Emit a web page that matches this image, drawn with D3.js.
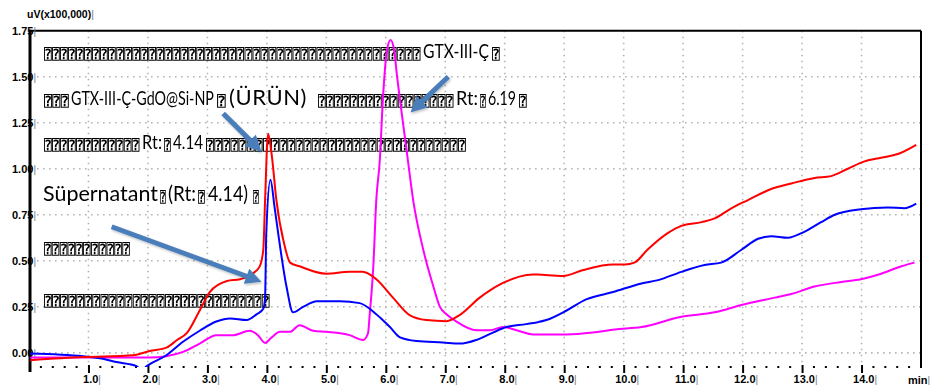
<!DOCTYPE html>
<html>
<head>
<meta charset="utf-8">
<script src="https://cdn.jsdelivr.net/npm/d3@7"></script>
<style>
  html, body { margin: 0; padding: 0; background: #fff; }
  svg { display: block; }
</style>
</head>
<body>
<svg id="chart" width="935" height="385"></svg>
<script>
// ---- Chromatogram traces (time in min, signal in uV x100,000) ----
const redTime = [0.02, 0.91, 1.75, 2.03, 2.32, 2.49, 2.66, 2.87, 3.04, 3.33, 3.55, 3.76, 3.88, 3.94, 3.97, 4.02, 4.08, 4.16, 4.30, 4.39, 4.55, 5.00, 5.39, 5.61, 5.84, 6.12, 6.40, 6.68, 7.02, 7.24, 7.58, 7.97, 8.48, 8.98, 9.32, 9.82, 10.02, 10.18, 10.40, 10.74, 10.97, 11.31, 11.53, 11.81, 12.09, 12.48, 12.82, 13.21, 13.49, 13.77, 14.05, 14.33, 14.61, 14.92];
const redValue = [-0.040, -0.023, -0.013, 0.010, 0.030, 0.070, 0.110, 0.230, 0.330, 0.390, 0.400, 0.430, 0.470, 0.560, 0.830, 1.190, 1.080, 0.830, 0.580, 0.490, 0.470, 0.430, 0.440, 0.440, 0.400, 0.300, 0.205, 0.178, 0.172, 0.205, 0.300, 0.380, 0.426, 0.417, 0.450, 0.480, 0.480, 0.490, 0.560, 0.650, 0.690, 0.710, 0.730, 0.785, 0.830, 0.890, 0.920, 0.950, 0.960, 1.000, 1.040, 1.060, 1.080, 1.130];

const blueTime = [0.02, 0.91, 1.19, 1.47, 1.81, 1.89, 1.98, 2.31, 2.59, 2.87, 3.15, 3.38, 3.66, 3.83, 3.94, 3.97, 3.99, 4.06, 4.13, 4.19, 4.33, 4.44, 4.61, 4.84, 5.23, 5.56, 5.84, 6.07, 6.24, 6.52, 6.96, 7.24, 7.52, 7.80, 8.03, 8.36, 8.70, 9.04, 9.37, 9.82, 10.30, 10.58, 10.97, 11.36, 11.64, 11.98, 12.26, 12.48, 12.76, 12.99, 13.32, 13.55, 13.99, 14.44, 14.72, 14.92];
const blueValue = [-0.003, -0.018, -0.030, -0.050, -0.072, -0.095, -0.072, -0.013, 0.060, 0.120, 0.170, 0.187, 0.178, 0.210, 0.240, 0.300, 0.650, 0.940, 0.790, 0.650, 0.360, 0.220, 0.250, 0.280, 0.280, 0.270, 0.210, 0.140, 0.084, 0.064, 0.056, 0.050, 0.070, 0.110, 0.140, 0.156, 0.178, 0.230, 0.290, 0.330, 0.377, 0.395, 0.440, 0.477, 0.490, 0.560, 0.620, 0.634, 0.625, 0.650, 0.710, 0.750, 0.780, 0.790, 0.785, 0.810];

const magentaTime = [0.02, 1.19, 2.03, 2.31, 2.59, 2.87, 3.15, 3.43, 3.71, 3.85, 3.97, 4.08, 4.22, 4.39, 4.55, 4.78, 5.00, 5.39, 5.62, 5.70, 5.73, 5.79, 5.84, 5.90, 5.95, 6.02, 6.08, 6.14, 6.19, 6.24, 6.35, 6.46, 6.63, 6.80, 6.91, 7.02, 7.19, 7.52, 7.75, 7.97, 8.20, 8.48, 9.04, 9.48, 9.85, 10.30, 10.97, 11.53, 11.98, 12.54, 12.82, 13.21, 13.66, 13.99, 14.33, 14.67, 14.89];
const magentaValue = [-0.025, -0.025, -0.025, -0.018, 0.005, 0.050, 0.096, 0.096, 0.120, 0.096, 0.054, 0.084, 0.114, 0.114, 0.150, 0.120, 0.114, 0.096, 0.070, 0.105, 0.210, 0.470, 0.830, 1.050, 1.370, 1.645, 1.700, 1.645, 1.500, 1.370, 1.100, 0.830, 0.560, 0.360, 0.250, 0.210, 0.170, 0.123, 0.123, 0.140, 0.123, 0.100, 0.100, 0.110, 0.127, 0.140, 0.196, 0.220, 0.260, 0.300, 0.320, 0.360, 0.385, 0.400, 0.430, 0.470, 0.490];

// ---- Axis ticks ----
const xTicks = [1, 2, 3, 4, 5, 6, 7, 8, 9, 10, 11, 12, 13, 14];
const xTickLabels = ["1.0", "2.0", "3.0", "4.0", "5.0", "6.0", "7.0", "8.0", "9.0", "10.0", "11.0", "12.0", "13.0", "14.0"];
const yTicks = [0, 0.25, 0.5, 0.75, 1.0, 1.25, 1.5, 1.75];
const yTickLabels = ["0.00", "0.25", "0.50", "0.75", "1.00", "1.25", "1.50", "1.75"];

const svg = d3.select("#chart");

const x = d3.scaleLinear().domain([0, 15]).range([29, 921]);
const y = d3.scaleLinear().domain([-0.077, 1.75]).range([367, 30.7]);

// ---- Grid ----
const grid = svg.append("g").attr("stroke", "#b4b4b4").attr("stroke-width", 1.6)
  .attr("stroke-dasharray", "1.6 4.4");
grid.selectAll("line.h").data(yTicks.filter(v => v < 1.75)).join("line")
  .attr("class", "h")
  .attr("x1", x(0) + 2).attr("x2", x(15))
  .attr("y1", d => y(d)).attr("y2", d => y(d));
grid.selectAll("line.v").data(xTicks).join("line")
  .attr("class", "v")
  .attr("x1", d => x(d)).attr("x2", d => x(d))
  .attr("y1", y(1.75)).attr("y2", y(-0.077) - 2);

// ---- Frame ----
const frame = svg.append("g").attr("stroke", "#000").attr("fill", "none");
frame.append("line").attr("x1", x(0)).attr("x2", x(15)).attr("y1", y(1.75)).attr("y2", y(1.75)).attr("stroke-width", 2);
frame.append("line").attr("x1", x(15)).attr("x2", x(15)).attr("y1", y(1.75)).attr("y2", y(-0.077) + 1).attr("stroke-width", 2);
frame.append("line").attr("x1", x(0) + 1).attr("x2", x(0) + 1).attr("y1", y(1.75) - 1).attr("y2", 372).attr("stroke-width", 3);

// minor tick dots along the time axis
const minor = d3.range(1, 75).map(i => i * 0.2).filter(v => Math.abs(v - Math.round(v)) > 0.01);
svg.append("g").selectAll("rect").data(minor).join("rect")
  .attr("x", d => x(d) - 1).attr("y", 366).attr("width", 2).attr("height", 2).attr("fill", "#000");

// ---- Axes ----
const axisFont = "Liberation Sans, Arial, sans-serif";
const yAxis = svg.append("g")
  .attr("transform", `translate(${x(0)},0)`)
  .call(d3.axisLeft(y).tickValues(yTicks).tickFormat((d, i) => yTickLabels[i]).tickSize(0).tickPadding(-7));
yAxis.select(".domain").remove();
yAxis.selectAll("text")
  .attr("font-family", axisFont)
  .attr("font-size", 11).attr("font-weight", "bold").attr("fill", "#000");
yAxis.selectAll("text").append("tspan").text("|")
  .attr("font-weight", "normal").attr("fill", "#777").attr("font-size", 10);

const xAxis = svg.append("g")
  .attr("transform", "translate(0,365)")
  .call(d3.axisBottom(x).tickValues(xTicks).tickFormat((d, i) => xTickLabels[i]).tickSize(8).tickPadding(2));
xAxis.select(".domain").remove();
xAxis.selectAll(".tick line").attr("stroke", "#000").attr("stroke-width", 2);
xAxis.selectAll("text")
  .attr("font-family", axisFont)
  .attr("font-size", 11).attr("font-weight", "bold").attr("fill", "#000").attr("dx", 3);
xAxis.selectAll("text").append("tspan").text("|")
  .attr("font-weight", "normal").attr("fill", "#777").attr("font-size", 10);

svg.append("text").attr("x", 908).attr("y", 384)
  .attr("font-family", axisFont).attr("font-size", 11).attr("font-weight", "bold")
  .text("min").append("tspan").text("|").attr("font-weight", "normal").attr("fill", "#777").attr("font-size", 10);

svg.append("text").attr("x", 27).attr("y", 18)
  .attr("font-family", axisFont).attr("font-size", 10.5).attr("font-weight", "bold")
  .text("uV(x100,000)").append("tspan").text("|").attr("font-weight", "normal").attr("fill", "#777");

// ---- Annotation text (unrendered glyphs appear as boxed question marks) ----
const Q = "\u2370";
const notes = [
  { base: 58, size: 19, segs: [[Q.repeat(47), 44, 377, 1], ["GTX-III-Ç", 423, 66], [Q, 492, 8, 1]] },
  { base: 105, size: 19, segs: [[Q.repeat(3), 44, 25, 1], ["GTX-III-Ç-GdO@Si-NP", 71, 143], [Q, 217, 9, 1], ["(ÜRÜN)", 229, 78, 0, 22], [Q.repeat(17), 318, 136, 1], ["Rt:", 456, 22], [Q, 480, 6, 1], ["6.19", 488, 28], [Q, 519, 8, 1]] },
  { base: 149, size: 19, segs: [[Q.repeat(12), 44, 96, 1], ["Rt:", 142, 20], [Q, 164, 7, 1], ["4.14", 173, 30], [Q.repeat(32), 206, 260, 1]] },
  { base: 201, size: 22, segs: [["Süpernatant", 43, 115], [Q, 160, 6, 1], ["(Rt:", 168, 28], [Q, 198, 7, 1], ["4.14)", 208, 40], [Q, 253, 6, 1]] },
  { base: 253, size: 19, segs: [[Q.repeat(11), 44, 86, 1]] },
  { base: 305, size: 19, segs: [[Q.repeat(28), 44, 226, 1]] }
];
// group opacity keeps glyph edges in plain greyscale
const noteG = svg.append("g").attr("opacity", 0.999);
notes.forEach(line => {
  line.segs.forEach(([txt, sx, sw, tofu, fs]) => {
    const t = noteG.append("text")
      .attr("x", 0).attr("y", 0)
      .attr("font-family", tofu ? "DejaVu Sans Mono, monospace" : "Lato, Open Sans, sans-serif")
      .attr("font-weight", tofu ? "bold" : "normal")
      .attr("font-size", tofu ? 14 : (fs || line.size))
      .attr("fill", "#000")
      .text(txt);
    const natural = t.node().getComputedTextLength();
    const by = line.base + (tofu ? 1 : 0);
    if (!tofu && natural < sw) {
      // widen plain text with letter spacing
      const n = Array.from(txt).length;
      t.attr("letter-spacing", ((sw - natural) / n).toFixed(2))
       .attr("transform", `translate(${sx},${by})`);
    } else {
      // squeeze horizontally to the run's width
      t.attr("transform", `translate(${sx},${by}) scale(${(sw / natural).toFixed(4)},1)`);
    }
  });
});

// ---- Traces ----
svg.append("clipPath").attr("id", "plotClip").append("rect")
  .attr("x", x(0)).attr("y", y(1.75)).attr("width", x(15) - x(0)).attr("height", y(-0.077) - y(1.75));

const line = d3.line().x(d => x(d[0])).y(d => y(d[1])).curve(d3.curveMonotoneX);
const traces = [
  { t: magentaTime, v: magentaValue, color: "#ff00ff" },
  { t: blueTime, v: blueValue, color: "#0000ff" },
  { t: redTime, v: redValue, color: "#ff0000" }
];
const traceG = svg.append("g").attr("clip-path", "url(#plotClip)");
traces.forEach(s => {
  traceG.append("path")
    .datum(d3.zip(s.t, s.v))
    .attr("fill", "none").attr("stroke", s.color).attr("stroke-width", 2)
    .attr("stroke-linejoin", "round")
    .attr("d", line);
});

// ---- Pointer arrows (tail -> tip, in data units) ----
const arrows = [
  [[3.265, 1.30], [3.91, 1.093]],
  [[7.05, 1.50], [6.415, 1.305]],
  [[1.39, 0.685], [3.91, 0.386]]
];
function arrowPath(x1, y1, x2, y2) {
  const sw = 5, hl = 16, hw = 16;
  const dx = x2 - x1, dy = y2 - y1, L = Math.hypot(dx, dy);
  const ux = dx / L, uy = dy / L, px = -uy, py = ux;
  const bx = x2 - ux * hl, by = y2 - uy * hl;
  const p = [
    [x1 + px * sw / 2, y1 + py * sw / 2],
    [bx + px * sw / 2, by + py * sw / 2],
    [bx + px * hw / 2, by + py * hw / 2],
    [x2, y2],
    [bx - px * hw / 2, by - py * hw / 2],
    [bx - px * sw / 2, by - py * sw / 2],
    [x1 - px * sw / 2, y1 - py * sw / 2]
  ];
  return "M" + p.map(q => q.join(",")).join("L") + "Z";
}
const defs = svg.append("defs");
const f = defs.append("filter").attr("id", "arrowShadow").attr("x", "-20%").attr("y", "-20%").attr("width", "140%").attr("height", "140%");
f.append("feDropShadow").attr("dx", 1).attr("dy", 1.5).attr("stdDeviation", 1.2).attr("flood-color", "#000").attr("flood-opacity", 0.25);
svg.append("g").selectAll("path").data(arrows).join("path")
  .attr("d", d => arrowPath(x(d[0][0]), y(d[0][1]), x(d[1][0]), y(d[1][1])))
  .attr("fill", "#4a7ebb").attr("filter", "url(#arrowShadow)");
</script>
</body>
</html>
